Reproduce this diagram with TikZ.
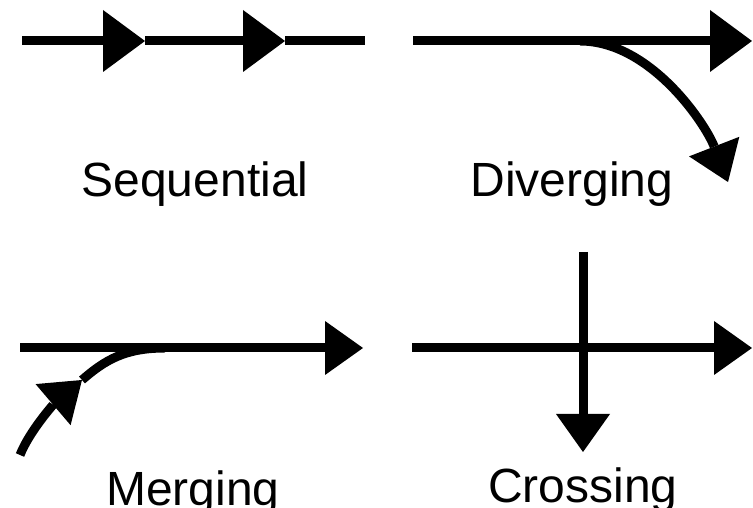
\documentclass[tikz,border=0pt]{standalone}
\usepackage{fontspec}
\setmainfont{Liberation Sans}
\usetikzlibrary{arrows.meta}

\tikzset{
  line/.style={line width=9pt},
  flow/.style={line width=9pt, -{Triangle[length=38pt,width=54pt,line width=0pt]}},
  wideflow/.style={line width=9pt, -{Triangle[length=42pt,width=62pt,line width=0pt]}},
  caption/.style={font=\fontsize{48}{48}\selectfont, anchor=base, inner sep=0pt}
}

\begin{document}
\begin{tikzpicture}[x=1pt,y=1pt]
  \useasboundingbox (0,0) rectangle (753,508);

  % Sequential
  \coordinate (sA) at (22,467);
  \coordinate (sB) at (145,467);
  \coordinate (sC) at (285,467);
  \coordinate (sD) at (365,467);
  \draw[wideflow] (sA) -- (sB);
  \draw[wideflow] (sB) -- (sC);
  \draw[line] (sC) -- (sD);
  \node[caption] (seq) at (195,311) {Sequential};

  % Diverging
  \coordinate (dA) at (413,467);
  \coordinate (dB) at (580,467);
  \coordinate (dC) at (752,467);
  \coordinate (dD) at (728,326);
  \draw[wideflow] (dA) -- (dC);
  \draw[flow] (dB) .. controls (650,467) and (705,385) .. (dD);
  \node[caption] (div) at (572,311) {Diverging};

  % Merging
  \coordinate (mA) at (20,160);
  \coordinate (mB) at (363,160);
  \coordinate (mC) at (20,53);
  \coordinate (mD) at (82,128);
  \coordinate (mE) at (165,160);
  \draw[flow] (mA) -- (mB);
  \draw[flow] (mC) .. controls (30,78) and (55,105) .. (mD);
  \draw[line] (mD) .. controls (105,148) and (125,160) .. (mE);
  \node[caption] (mer) at (193,2) {Merging};

  % Crossing
  \coordinate (cA) at (412,160);
  \coordinate (cB) at (752,160);
  \coordinate (cC) at (583,256);
  \coordinate (cD) at (583,56);
  \draw[flow] (cA) -- (cB);
  \draw[flow] (cC) -- (cD);
  \node[caption] (cro) at (583,5) {Crossing};
\end{tikzpicture}
\end{document}
